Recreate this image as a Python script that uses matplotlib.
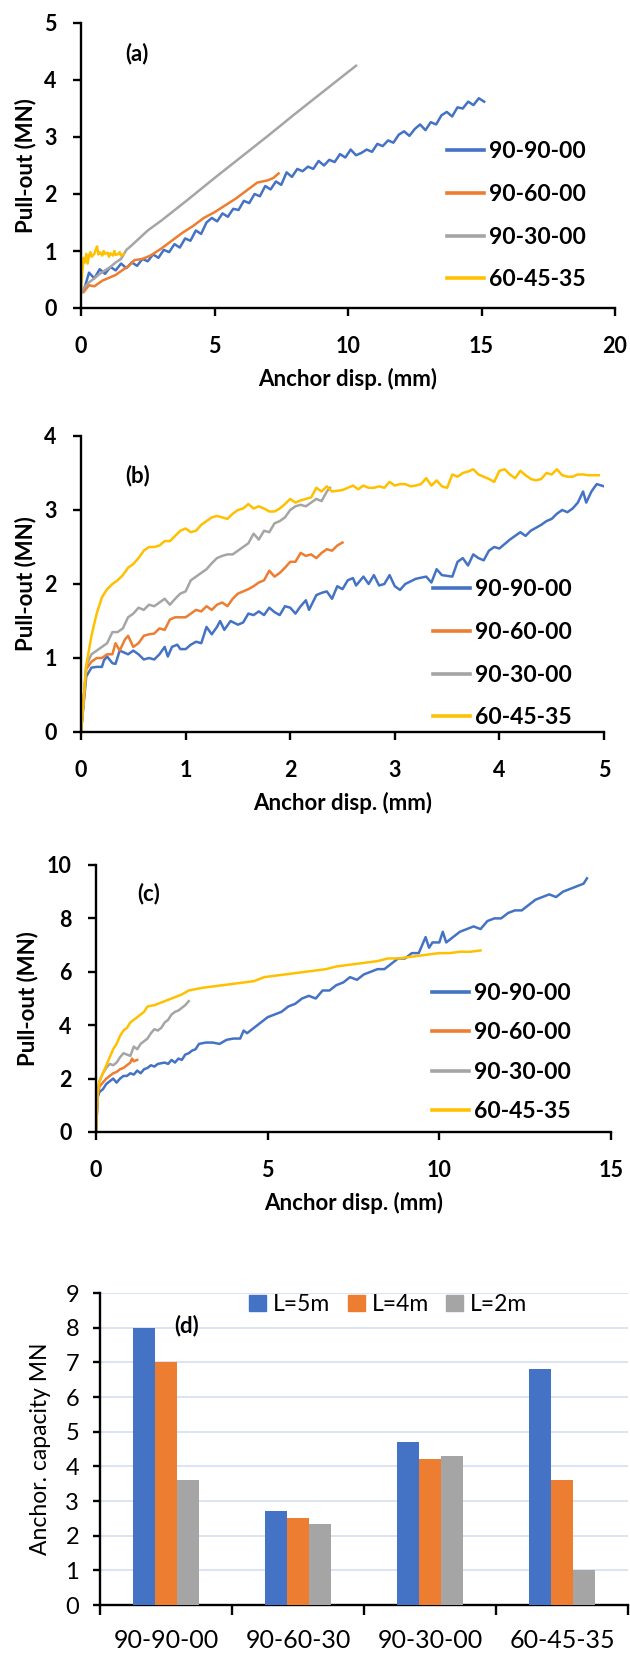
import matplotlib
matplotlib.use('Agg')
import matplotlib.pyplot as plt
from matplotlib.patches import Patch
import numpy as np

plt.rcParams['font.family'] = ['Lato', 'DejaVu Sans']

W = 630
H = 1653
ticks_size = 15.5
label_size = 16
legend_size = 16.5

c_blue = '#4472C4'
c_orange = '#ED7D31'
c_gray = '#A5A5A5'
c_yellow = '#FFC000'

names = ['90-90-00', '90-60-00', '90-30-00', '60-45-35']

'''----------------
(a) pull-out curves
-------------------'''
a_blue_x = [0.1, 0.3, 0.5, 0.7, 0.9, 1.1, 1.3, 1.5, 1.7, 1.9, 2.1, 2.3, 2.5, 2.7, 2.9,
            3.1, 3.3, 3.5, 3.7, 3.9, 4.1, 4.3, 4.5, 4.7, 4.9, 5.1, 5.3, 5.5, 5.7, 5.9,
            6.1, 6.3, 6.5, 6.7, 6.9, 7.1, 7.3, 7.5, 7.7, 7.9, 8.1, 8.3, 8.5, 8.7, 8.9,
            9.1, 9.3, 9.5, 9.7, 9.9, 10.1, 10.3, 10.5, 10.7, 10.9, 11.1, 11.3, 11.5, 11.7, 11.9,
            12.1, 12.3, 12.5, 12.7, 12.9, 13.1, 13.3, 13.5, 13.7, 13.9, 14.1, 14.3, 14.5, 14.7, 14.9, 15.1]
a_blue_y = [0.30, 0.62, 0.52, 0.68, 0.60, 0.72, 0.66, 0.78, 0.70, 0.80, 0.74, 0.86, 0.82, 0.94, 0.88,
            1.02, 0.98, 1.12, 1.06, 1.22, 1.18, 1.36, 1.30, 1.50, 1.58, 1.52, 1.66, 1.60, 1.74, 1.72,
            1.88, 1.84, 2.00, 1.96, 2.14, 2.08, 2.22, 2.16, 2.38, 2.30, 2.44, 2.40, 2.48, 2.44, 2.58,
            2.50, 2.60, 2.56, 2.70, 2.64, 2.78, 2.68, 2.72, 2.78, 2.74, 2.88, 2.84, 2.94, 2.90, 3.04,
            3.10, 3.02, 3.14, 3.22, 3.12, 3.26, 3.22, 3.38, 3.44, 3.36, 3.52, 3.50, 3.62, 3.56, 3.68, 3.62]

a_orange_x = [0.1, 0.3, 0.5, 0.8, 1.0, 1.3, 1.6, 1.8, 2.0, 2.3, 2.6, 3.0, 3.4, 3.8, 4.2,
              4.6, 5.0, 5.4, 5.8, 6.2, 6.6, 7.0, 7.2, 7.4]
a_orange_y = [0.28, 0.40, 0.38, 0.48, 0.52, 0.58, 0.68, 0.74, 0.84, 0.86, 0.92, 1.04, 1.18, 1.32, 1.44,
              1.58, 1.68, 1.80, 1.92, 2.06, 2.20, 2.24, 2.28, 2.36]

a_gray_x = [0.0, 0.1, 0.3, 0.5, 0.7, 0.9, 1.1, 1.3, 1.5, 1.7, 1.9, 2.5, 3.0, 4.0, 5.0,
            6.0, 7.0, 8.0, 9.0, 10.0, 10.3]
a_gray_y = [0.25, 0.35, 0.45, 0.52, 0.60, 0.66, 0.72, 0.80, 0.86, 1.02, 1.10, 1.36, 1.53, 1.90, 2.28,
            2.65, 3.02, 3.40, 3.77, 4.14, 4.25]

a_yellow_x = [0.0, 0.05, 0.1, 0.15, 0.2, 0.25, 0.3, 0.35, 0.4, 0.5, 0.55, 0.6, 0.65, 0.7, 0.8,
              0.85, 0.9, 1.0, 1.05, 1.1, 1.2, 1.25, 1.3, 1.4, 1.45, 1.5, 1.6]
a_yellow_y = [0.30, 0.65, 0.88, 0.80, 0.95, 0.78, 0.92, 0.98, 0.90, 0.95, 1.02, 1.08, 0.94, 0.98, 0.92,
              1.00, 0.95, 0.97, 0.90, 0.96, 0.92, 1.00, 0.93, 0.95, 0.98, 0.92, 0.95]

'''----------------
(b) pull-out curves
-------------------'''
b_blue_x = [0, 0.05, 0.1, 0.15, 0.2, 0.22, 0.25, 0.3, 0.33, 0.37, 0.45, 0.5, 0.55, 0.6, 0.65,
            0.7, 0.75, 0.8, 0.83, 0.87, 0.92, 0.95, 1.0, 1.05, 1.1, 1.15, 1.2, 1.25, 1.3, 1.33,
            1.37, 1.43, 1.5, 1.55, 1.6, 1.65, 1.7, 1.75, 1.8, 1.85, 1.9, 1.95, 2.0, 2.05, 2.1,
            2.15, 2.18, 2.25, 2.3, 2.35, 2.4, 2.45, 2.5, 2.55, 2.6, 2.63, 2.7, 2.75, 2.8, 2.85,
            2.9, 2.95, 3.0, 3.05, 3.1, 3.2, 3.3, 3.35, 3.4, 3.45, 3.55, 3.6, 3.65, 3.7, 3.75,
            3.8, 3.85, 3.9, 3.95, 4.0, 4.1, 4.2, 4.25, 4.3, 4.4, 4.45, 4.5, 4.55, 4.6, 4.65,
            4.7, 4.75, 4.8, 4.83, 4.88, 4.93, 5.0]
b_blue_y = [0, 0.75, 0.87, 0.88, 0.88, 0.97, 1.02, 0.93, 0.92, 1.10, 1.05, 1.10, 1.05, 0.98, 1.00,
            0.98, 1.05, 1.15, 1.02, 1.15, 1.18, 1.12, 1.12, 1.18, 1.22, 1.20, 1.42, 1.32, 1.42, 1.50,
            1.38, 1.50, 1.45, 1.48, 1.60, 1.58, 1.63, 1.58, 1.68, 1.62, 1.58, 1.70, 1.68, 1.60, 1.70,
            1.78, 1.65, 1.85, 1.88, 1.90, 1.80, 1.97, 1.93, 2.05, 2.08, 1.98, 2.10, 2.00, 2.12, 1.98,
            2.00, 2.12, 1.97, 1.92, 2.00, 2.07, 2.10, 2.02, 2.20, 2.12, 2.10, 2.30, 2.35, 2.25, 2.40,
            2.35, 2.32, 2.45, 2.50, 2.48, 2.60, 2.70, 2.65, 2.72, 2.80, 2.85, 2.88, 2.95, 3.00, 2.97,
            3.02, 3.10, 3.25, 3.10, 3.25, 3.35, 3.32]

b_orange_x = [0, 0.05, 0.1, 0.15, 0.2, 0.25, 0.3, 0.33, 0.37, 0.42, 0.45, 0.5, 0.55, 0.6, 0.65,
              0.7, 0.75, 0.8, 0.85, 0.9, 1.0, 1.05, 1.1, 1.15, 1.2, 1.25, 1.3, 1.35, 1.4, 1.45,
              1.5, 1.55, 1.6, 1.65, 1.7, 1.75, 1.8, 1.85, 1.9, 1.95, 2.0, 2.05, 2.1, 2.15, 2.2,
              2.25, 2.3, 2.35, 2.4, 2.45, 2.5]
b_orange_y = [0, 0.85, 0.95, 1.00, 1.00, 1.05, 1.05, 1.20, 1.10, 1.25, 1.30, 1.15, 1.20, 1.30, 1.32,
              1.33, 1.40, 1.38, 1.52, 1.55, 1.55, 1.60, 1.65, 1.63, 1.70, 1.65, 1.72, 1.75, 1.70, 1.80,
              1.87, 1.90, 1.93, 1.97, 2.02, 2.05, 2.18, 2.10, 2.15, 2.22, 2.30, 2.30, 2.42, 2.38, 2.40,
              2.35, 2.42, 2.47, 2.45, 2.52, 2.56]

b_gray_x = [0, 0.05, 0.1, 0.15, 0.2, 0.25, 0.3, 0.35, 0.4, 0.45, 0.5, 0.55, 0.6, 0.65, 0.7,
            0.75, 0.8, 0.85, 0.9, 0.95, 1.0, 1.05, 1.1, 1.15, 1.2, 1.25, 1.3, 1.35, 1.4, 1.45,
            1.5, 1.55, 1.6, 1.65, 1.7, 1.75, 1.8, 1.85, 1.9, 1.95, 2.0, 2.05, 2.1, 2.15, 2.2,
            2.25, 2.3, 2.35, 2.38]
b_gray_y = [0, 0.90, 1.05, 1.10, 1.15, 1.20, 1.35, 1.35, 1.40, 1.55, 1.60, 1.68, 1.65, 1.72, 1.70,
            1.75, 1.80, 1.72, 1.80, 1.87, 1.90, 2.05, 2.10, 2.15, 2.20, 2.28, 2.35, 2.38, 2.40, 2.40,
            2.45, 2.50, 2.55, 2.68, 2.60, 2.72, 2.70, 2.82, 2.85, 2.90, 3.00, 3.05, 3.07, 3.05, 3.10,
            3.15, 3.12, 3.25, 3.30]

b_yellow_x = [0, 0.05, 0.1, 0.15, 0.2, 0.25, 0.3, 0.35, 0.4, 0.45, 0.5, 0.55, 0.6, 0.65, 0.7,
              0.75, 0.8, 0.85, 0.9, 0.95, 1.0, 1.05, 1.1, 1.15, 1.2, 1.25, 1.3, 1.35, 1.4, 1.45,
              1.5, 1.55, 1.6, 1.65, 1.7, 1.75, 1.8, 1.85, 1.9, 1.95, 2.0, 2.05, 2.1, 2.15, 2.2,
              2.25, 2.3, 2.35, 2.4, 2.5, 2.55, 2.6, 2.65, 2.7, 2.75, 2.8, 2.85, 2.9, 2.95, 3.0,
              3.05, 3.1, 3.15, 3.2, 3.25, 3.3, 3.35, 3.4, 3.45, 3.5, 3.55, 3.6, 3.65, 3.7, 3.75,
              3.8, 3.85, 3.9, 3.95, 4.0, 4.05, 4.1, 4.15, 4.2, 4.25, 4.3, 4.35, 4.4, 4.45, 4.5,
              4.55, 4.6, 4.65, 4.7, 4.75, 4.8, 4.85, 4.9, 4.95]
b_yellow_y = [0, 0.90, 1.30, 1.60, 1.82, 1.93, 2.00, 2.05, 2.12, 2.22, 2.27, 2.35, 2.45, 2.50, 2.50,
              2.52, 2.58, 2.58, 2.65, 2.72, 2.75, 2.70, 2.72, 2.80, 2.85, 2.90, 2.92, 2.90, 2.88, 2.95,
              3.00, 3.02, 3.08, 3.02, 3.05, 3.02, 2.98, 2.98, 3.02, 3.08, 3.15, 3.10, 3.13, 3.15, 3.17,
              3.30, 3.25, 3.32, 3.25, 3.27, 3.30, 3.33, 3.28, 3.33, 3.30, 3.30, 3.32, 3.30, 3.38, 3.33,
              3.35, 3.35, 3.32, 3.33, 3.35, 3.43, 3.33, 3.40, 3.32, 3.30, 3.48, 3.45, 3.50, 3.52, 3.55,
              3.48, 3.45, 3.42, 3.38, 3.53, 3.55, 3.48, 3.43, 3.53, 3.47, 3.42, 3.40, 3.42, 3.50, 3.48,
              3.55, 3.47, 3.45, 3.45, 3.48, 3.48, 3.47, 3.47, 3.47]

'''----------------
(c) pull-out curves
-------------------'''
c_blue_x = [0, 0.05, 0.1, 0.2, 0.3, 0.4, 0.5, 0.6, 0.7, 0.8, 0.9, 1.0, 1.1, 1.2, 1.3,
            1.4, 1.5, 1.6, 1.7, 1.8, 2.0, 2.1, 2.2, 2.3, 2.4, 2.5, 2.6, 2.7, 2.8, 2.9,
            3.0, 3.2, 3.4, 3.6, 3.8, 4.0, 4.2, 4.3, 4.4, 4.6, 4.8, 5.0, 5.2, 5.4, 5.6,
            5.8, 6.0, 6.2, 6.4, 6.6, 6.8, 7.0, 7.2, 7.4, 7.6, 7.8, 8.0, 8.2, 8.4, 8.6,
            8.8, 9.0, 9.2, 9.4, 9.6, 9.7, 9.8, 10.0, 10.1, 10.2, 10.4, 10.6, 10.8, 11.0, 11.2,
            11.4, 11.6, 11.8, 12.0, 12.2, 12.4, 12.6, 12.8, 13.0, 13.2, 13.4, 13.6, 13.8, 14.0, 14.2,
            14.3]
c_blue_y = [0, 1.3, 1.5, 1.6, 1.8, 1.9, 2.0, 1.85, 2.0, 2.1, 2.1, 2.2, 2.15, 2.3, 2.2,
            2.35, 2.4, 2.5, 2.45, 2.55, 2.6, 2.55, 2.7, 2.6, 2.75, 2.7, 2.9, 2.95, 3.05, 3.1,
            3.3, 3.35, 3.35, 3.3, 3.45, 3.5, 3.5, 3.8, 3.7, 3.9, 4.1, 4.3, 4.4, 4.5, 4.7,
            4.8, 5.0, 5.1, 5.0, 5.3, 5.3, 5.5, 5.6, 5.8, 5.7, 5.9, 6.0, 6.1, 6.1, 6.3,
            6.5, 6.5, 6.7, 6.7, 7.3, 6.9, 7.1, 7.1, 7.5, 7.1, 7.3, 7.5, 7.6, 7.7, 7.6,
            7.9, 8.0, 8.0, 8.2, 8.3, 8.3, 8.5, 8.7, 8.8, 8.9, 8.8, 9.0, 9.1, 9.2, 9.3,
            9.5]

c_orange_x = [0, 0.05, 0.1, 0.2, 0.3, 0.4, 0.5, 0.6, 0.7, 0.8, 0.9, 1.0, 1.05, 1.1, 1.2]
c_orange_y = [0, 1.4, 1.7, 1.85, 2.0, 2.1, 2.2, 2.25, 2.35, 2.4, 2.5, 2.6, 2.75, 2.65, 2.7]

c_gray_x = [0, 0.05, 0.1, 0.2, 0.3, 0.4, 0.5, 0.6, 0.7, 0.8, 0.9, 1.0, 1.1, 1.2, 1.3,
            1.4, 1.5, 1.6, 1.7, 1.8, 1.9, 2.0, 2.1, 2.2, 2.3, 2.4, 2.5, 2.6, 2.7]
c_gray_y = [0, 1.5, 1.9, 2.2, 2.4, 2.55, 2.5, 2.6, 2.8, 2.95, 2.9, 2.85, 3.2, 3.1, 3.3,
            3.4, 3.5, 3.7, 3.85, 3.8, 3.9, 4.1, 4.2, 4.4, 4.5, 4.55, 4.65, 4.75, 4.9]

c_yellow_x = [0, 0.05, 0.1, 0.2, 0.3, 0.4, 0.5, 0.6, 0.7, 0.8, 0.9, 1.0, 1.2, 1.4, 1.5,
              1.7, 1.9, 2.1, 2.3, 2.5, 2.7, 2.9, 3.1, 3.4, 3.7, 4.0, 4.3, 4.6, 4.9, 5.2,
              5.5, 5.8, 6.1, 6.4, 6.7, 7.0, 7.3, 7.6, 7.9, 8.2, 8.5, 8.8, 9.1, 9.4, 9.7,
              10.0, 10.3, 10.6, 10.9, 11.2]
c_yellow_y = [0, 1.5, 1.9, 2.2, 2.5, 2.8, 3.1, 3.3, 3.6, 3.8, 3.9, 4.1, 4.3, 4.5, 4.7,
              4.75, 4.85, 4.95, 5.05, 5.15, 5.3, 5.35, 5.4, 5.45, 5.5, 5.55, 5.6, 5.65, 5.8, 5.85,
              5.9, 5.95, 6.0, 6.05, 6.1, 6.2, 6.25, 6.3, 6.35, 6.4, 6.5, 6.5, 6.55, 6.6, 6.65,
              6.7, 6.7, 6.75, 6.75, 6.8]

'''----------------
(d) anchor capacity
-------------------'''
groups = ['90-90-00', '90-60-30', '90-30-00', '60-45-35']
cap_5m = [8.0, 2.7, 4.7, 6.8]
cap_4m = [7.0, 2.5, 4.2, 3.6]
cap_2m = [3.6, 2.35, 4.3, 1.0]


def px_axes(fig, left, top, right, bottom):
    return fig.add_axes([left / W, 1 - bottom / H, (right - left) / W, (bottom - top) / H])


def style_curve_axes(ax, xmax, xstep, ymax, ystep):
    for s in ['top', 'right']:
        ax.spines[s].set_visible(False)
    for s in ['left', 'bottom']:
        ax.spines[s].set_linewidth(1.7)
    ax.set_xlim(0, xmax)
    ax.set_ylim(0, ymax)
    ax.set_xticks(np.arange(0, xmax + 0.01, xstep))
    ax.set_yticks(np.arange(0, ymax + 0.01, ystep))
    ax.tick_params(axis='x', direction='out', length=5.5, width=1.7, pad=14.5, labelsize=ticks_size)
    ax.tick_params(axis='y', direction='out', length=5.5, width=1.7, pad=12, labelsize=ticks_size)
    for t in ax.get_xticklabels() + ax.get_yticklabels():
        t.set_fontweight('bold')
    ax.set_xlabel('Anchor disp. (mm)', fontsize=label_size, fontweight='bold', labelpad=8)
    ax.set_ylabel('Pull-out (MN)', fontsize=label_size, fontweight='bold', labelpad=6)


def curve_legend(fig, ax, x_px, y_px, spacing):
    leg = ax.legend(names, loc='upper left', bbox_to_anchor=(x_px / W, 1 - y_px / H),
                    bbox_transform=fig.transFigure, frameon=False, borderpad=0,
                    borderaxespad=0, handlelength=1.6, handletextpad=0.25,
                    labelspacing=spacing, prop={'weight': 'bold', 'size': legend_size})
    for l in leg.get_lines():
        l.set_linewidth(2.6)


fig = plt.figure(figsize=(W / 100, H / 100), dpi=100)

# (a)
ax1 = px_axes(fig, 81, 23, 615, 308)
ax1.plot(a_blue_x, a_blue_y, color=c_blue, lw=1.8)
ax1.plot(a_orange_x, a_orange_y, color=c_orange, lw=1.8)
ax1.plot(a_gray_x, a_gray_y, color=c_gray, lw=1.8)
ax1.plot(a_yellow_x, a_yellow_y, color=c_yellow, lw=1.8)
style_curve_axes(ax1, 20, 5, 5, 1)
curve_legend(fig, ax1, 447, 141, 0.95)
ax1.text(2.1, 4.47, '(a)', fontsize=label_size, fontweight='bold', ha='center', va='center')

# (b)
ax2 = px_axes(fig, 81, 436, 604, 732)
ax2.plot(b_blue_x, b_blue_y, color=c_blue, lw=1.8)
ax2.plot(b_orange_x, b_orange_y, color=c_orange, lw=1.8)
ax2.plot(b_gray_x, b_gray_y, color=c_gray, lw=1.8)
ax2.plot(b_yellow_x, b_yellow_y, color=c_yellow, lw=1.8)
style_curve_axes(ax2, 5, 1, 4, 1)
curve_legend(fig, ax2, 433, 579, 0.95)
ax2.text(0.54, 3.47, '(b)', fontsize=label_size, fontweight='bold', ha='center', va='center')

# (c)
ax3 = px_axes(fig, 96, 865, 611, 1132)
ax3.plot(c_blue_x, c_blue_y, color=c_blue, lw=1.8)
ax3.plot(c_orange_x, c_orange_y, color=c_orange, lw=1.8)
ax3.plot(c_gray_x, c_gray_y, color=c_gray, lw=1.8)
ax3.plot(c_yellow_x, c_yellow_y, color=c_yellow, lw=1.8)
style_curve_axes(ax3, 15, 5, 10, 2)
curve_legend(fig, ax3, 432, 983, 0.8)
ax3.text(1.54, 8.95, '(c)', fontsize=label_size, fontweight='bold', ha='center', va='center')

# (d)
ax4 = px_axes(fig, 100, 1293, 628, 1605)
xg = np.arange(len(groups))
bw = 1 / 6
ax4.bar(xg - bw, cap_5m, bw, color=c_blue, zorder=3)
ax4.bar(xg, cap_4m, bw, color=c_orange, zorder=3)
ax4.bar(xg + bw, cap_2m, bw, color=c_gray, zorder=3)
ax4.set_xlim(-0.5, len(groups) - 0.5)
ax4.set_ylim(0, 9)
ax4.set_yticks(range(0, 10))
ax4.yaxis.grid(True, color='#d5dff2', lw=1.2, zorder=0)
for s in ['top', 'right']:
    ax4.spines[s].set_visible(False)
for s in ['left', 'bottom']:
    ax4.spines[s].set_linewidth(1.7)
ax4.set_xticks(xg)
ax4.set_xticklabels(groups)
ax4.set_xticks(np.arange(-0.5, len(groups)), minor=True)
ax4.tick_params(axis='x', which='major', length=0, pad=17, labelsize=18)
ax4.tick_params(axis='x', which='minor', direction='out', length=7, width=1.7)
ax4.tick_params(axis='y', direction='out', length=5, width=1.7, pad=10, labelsize=17)
ax4.set_ylabel('Anchor. capacity MN', fontsize=16.5, labelpad=10)
ax4.text(0.16, 8.06, '(d)', fontsize=label_size, fontweight='bold', ha='center', va='center')
handles = [Patch(color=c_blue), Patch(color=c_orange), Patch(color=c_gray)]
ax4.legend(handles, ['L=5m', 'L=4m', 'L=2m'], loc='upper left',
           bbox_to_anchor=(249 / W, 1 - 1294 / H), bbox_transform=fig.transFigure,
           ncol=3, frameon=False, borderpad=0, borderaxespad=0, handlelength=0.75,
           handleheight=0.75, handletextpad=0.3, columnspacing=0.75, fontsize=16.5)

fig.savefig('out.png', dpi=100)
